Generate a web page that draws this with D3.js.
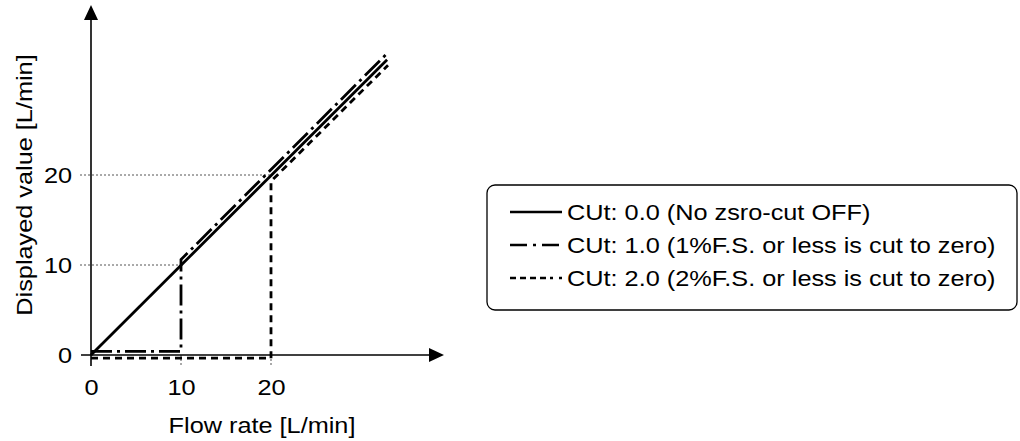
<!DOCTYPE html>
<html>
<head>
<meta charset="utf-8">
<script src="https://cdn.jsdelivr.net/npm/d3@7"></script>
<style>
html,body{margin:0;padding:0;background:#fff;}
svg{display:block;font-family:"Liberation Sans",Arial,sans-serif;}
</style>
</head>
<body>
<svg id="chart" width="1020" height="441"></svg>
<script>
// ---- data ----
const seriesNames = [
  "CUt: 0.0 (No zsro-cut OFF)",
  "CUt: 1.0 (1%F.S. or less is cut to zero)",
  "CUt: 2.0 (2%F.S. or less is cut to zero)"
];
const xTickValues = [0, 10, 20];
const yTickValues = [0, 10, 20];
const cut0 = [[0, 0], [32.9, 32.8]];
const cut1 = [[0, 0.4], [10, 0.4], [10, 10.6], [32.9, 33.5]];
const cut2 = [[0, -0.35], [20, -0.35], [20, 19.3], [33, 32.2]];
const guideLevels = [10, 20];

// ---- drawing ----
const svg = d3.select("#chart");
const x = d3.scaleLinear().domain([0, 38]).range([91, 433]);
const y = d3.scaleLinear().domain([0, 38]).range([355, 13]);
const FS = 22;
const SX = 1.15; // horizontal stretch of the original lettering

// guide lines
guideLevels.forEach(v => {
  svg.append("line")
    .attr("x1", x(0) - 11).attr("x2", x(v))
    .attr("y1", y(v)).attr("y2", y(v))
    .attr("stroke", "#555").attr("stroke-width", 1).attr("stroke-dasharray", "2,2");
});
xTickValues.filter(v => v > 0).forEach(v => {
  svg.append("line")
    .attr("x1", x(v)).attr("x2", x(v))
    .attr("y1", y(0)).attr("y2", y(0) + 11)
    .attr("stroke", "#555").attr("stroke-width", 1).attr("stroke-dasharray", "2,2");
});

// axes lines with arrows
svg.append("line").attr("x1", x(0) - 10).attr("x2", 430).attr("y1", y(0)).attr("y2", y(0))
  .attr("stroke", "#000").attr("stroke-width", 1.6);
svg.append("path").attr("d", `M429,${y(0) - 7}L444,${y(0)}L429,${y(0) + 7}Z`).attr("fill", "#000");
svg.append("line").attr("x1", x(0)).attr("x2", x(0)).attr("y1", y(0) + 11).attr("y2", 18)
  .attr("stroke", "#000").attr("stroke-width", 1.6);
svg.append("path").attr("d", `M${x(0) - 7},20L${x(0)},5L${x(0) + 7},20Z`).attr("fill", "#000");

// tick labels via d3 axes
const xAxis = svg.append("g").attr("transform", `translate(0,${y(0)})`)
  .call(d3.axisBottom(x).tickValues(xTickValues).tickSize(0).tickPadding(24).tickFormat(d3.format("d")));
xAxis.select(".domain").remove();
xAxis.selectAll("text").attr("font-size", FS).attr("font-family", "Liberation Sans, Arial, sans-serif")
  .attr("fill", "#000").attr("transform", `scale(${SX},1)`);

const yAxis = svg.append("g").attr("transform", `translate(${x(0)},0)`)
  .call(d3.axisLeft(y).tickValues(yTickValues).tickSize(0).tickPadding(19).tickFormat(d3.format("d")));
yAxis.select(".domain").remove();
yAxis.selectAll("text").attr("font-size", FS).attr("font-family", "Liberation Sans, Arial, sans-serif")
  .attr("fill", "#000").attr("x", -19 / SX).attr("transform", `scale(${SX},1)`);

// axis titles
svg.append("text").attr("transform", `translate(262,433) scale(${SX},1)`).attr("text-anchor", "middle")
  .attr("font-size", FS).text("Flow rate [L/min]");
svg.append("text").attr("transform", `translate(32,185) rotate(-90) scale(${SX},1)`).attr("text-anchor", "middle")
  .attr("font-size", FS).text("Displayed value [L/min]");

// series
const line = d3.line().x(d => x(d[0])).y(d => y(d[1]));
const styles = [
  {data: cut0, dash: null, w: 2.8, legDash: null},
  {data: cut1, dash: "21,5,3,5", w: 2.8, legDash: "17,6,3,6,17"},
  {data: cut2, dash: "7,5", w: 2.8, legDash: "6,4,6,4,6,4,6,4,3"}
];
styles.forEach(s => {
  svg.append("path").attr("d", line(s.data)).attr("fill", "none")
    .attr("stroke", "#000").attr("stroke-width", s.w)
    .attr("stroke-dasharray", s.dash);
});

// legend
svg.append("rect").attr("x", 487).attr("y", 185).attr("width", 530).attr("height", 125)
  .attr("rx", 8).attr("fill", "#fff").attr("stroke", "#000").attr("stroke-width", 1.3);
const rowsY = [212, 245, 278];
seriesNames.forEach((name, i) => {
  svg.append("line").attr("x1", 510).attr("x2", 562).attr("y1", rowsY[i]).attr("y2", rowsY[i])
    .attr("stroke", "#000").attr("stroke-width", 2.6)
    .attr("stroke-dasharray", styles[i].legDash);
  svg.append("text").attr("transform", `translate(567,${rowsY[i]}) scale(${SX},1)`).attr("dy", "0.35em")
    .attr("font-size", FS).text(name);
});
</script>
</body>
</html>
